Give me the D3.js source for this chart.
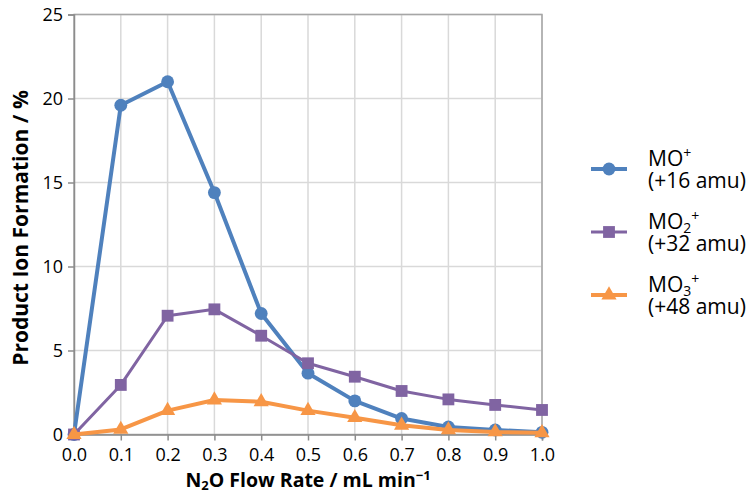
<!DOCTYPE html>
<html>
<head>
<meta charset="utf-8">
<script src="https://cdn.jsdelivr.net/npm/d3@7"></script>
<style>
  html, body { margin: 0; padding: 0; background: #fff; }
  svg { display: block; font-family: "Open Sans", "Liberation Sans", sans-serif; }
</style>
</head>
<body>
<svg id="chart" width="751" height="493"></svg>
<script>
// N2O flow rate (mL/min) and product ion formation (%) per oxide species
const flowRates = [0.0, 0.1, 0.2, 0.3, 0.4, 0.5, 0.6, 0.7, 0.8, 0.9, 1.0];
const mo1Values = [0.0, 19.6, 21.0, 14.4, 7.2, 3.65, 2.0, 0.95, 0.45, 0.27, 0.13];
const mo2Values = [0.0, 2.95, 7.07, 7.45, 5.88, 4.24, 3.44, 2.59, 2.09, 1.76, 1.46];
const mo3Values = [0.0, 0.3, 1.42, 2.05, 1.95, 1.42, 1.0, 0.55, 0.27, 0.15, 0.1];
const xTicks = [0.0, 0.1, 0.2, 0.3, 0.4, 0.5, 0.6, 0.7, 0.8, 0.9, 1.0];
const yTicks = [0, 5, 10, 15, 20, 25];

const series = [
  { name: "MO", sub: "", mass: "(+16 amu)", values: mo1Values, color: "#4f81bd", width: 4, marker: "circle" },
  { name: "MO", sub: "2", mass: "(+32 amu)", values: mo2Values, color: "#8064a2", width: 3, marker: "square" },
  { name: "MO", sub: "3", mass: "(+48 amu)", values: mo3Values, color: "#f79646", width: 4, marker: "triangle" }
];

const svg = d3.select("#chart");
const x = d3.scaleLinear().domain([0, 1]).range([74, 542]);
const y = d3.scaleLinear().domain([0, 25]).range([434.5, 14.5]);

// gridlines
const grid = svg.append("g");
grid.selectAll("line.v").data(xTicks.slice(1)).join("line")
  .attr("x1", d => x(d)).attr("x2", d => x(d))
  .attr("y1", y(0)).attr("y2", y(25))
  .attr("stroke", "#d9d9d9").attr("stroke-width", 1.5);
grid.selectAll("line.h").data(yTicks.slice(1)).join("line")
  .attr("x1", x(0)).attr("x2", x(1))
  .attr("y1", d => y(d)).attr("y2", d => y(d))
  .attr("stroke", "#d9d9d9").attr("stroke-width", 1.5);

// plot-area frame
svg.append("rect")
  .attr("x", x(0)).attr("y", y(25))
  .attr("width", x(1) - x(0)).attr("height", y(0) - y(25))
  .attr("fill", "none").attr("stroke", "#a6a6a6").attr("stroke-width", 1.5);

// axes
const xAxis = svg.append("g").attr("transform", `translate(0,${y(0)})`)
  .call(d3.axisBottom(x).tickValues(xTicks).tickFormat(d3.format(".1f")).tickSize(6).tickPadding(4));
const yAxis = svg.append("g").attr("transform", `translate(${x(0)},0)`)
  .call(d3.axisLeft(y).tickValues(yTicks).tickFormat(d3.format("d")).tickSize(6).tickPadding(5));
[xAxis, yAxis].forEach(a => {
  a.select(".domain").attr("stroke", "#8c8c8c").attr("stroke-width", 1.5);
  a.selectAll(".tick line").attr("stroke", "#8c8c8c").attr("stroke-width", 1.5);
  a.selectAll(".tick text").attr("fill", "#000").style("font-size", "18px")
    .style("font-family", "'Open Sans', sans-serif");
});
xAxis.selectAll(".tick text").attr("dy", "0.9em");

// series lines and markers
const line = d3.line().x((d, i) => x(flowRates[i])).y(d => y(d));
const markerPath = {
  circle: d3.symbol(d3.symbolCircle, 130),
  square: d3.symbol(d3.symbolSquare, 140),
  triangle: d3.symbol(d3.symbolTriangle, 100)
};
series.forEach(s => {
  const g = svg.append("g");
  g.append("path").datum(s.values)
    .attr("d", line).attr("fill", "none")
    .attr("stroke", s.color).attr("stroke-width", s.width)
    .attr("stroke-linejoin", "round");
  g.selectAll("path.m").data(s.values).join("path")
    .attr("class", "m")
    .attr("d", markerPath[s.marker])
    .attr("transform", (d, i) => `translate(${x(flowRates[i])},${y(d)})`)
    .attr("fill", s.color);
});

// legend: one text block per entry (formula line + mass line)
const legendRows = [169, 232, 295];
series.forEach((s, i) => {
  const cy = legendRows[i];
  const g = svg.append("g");
  g.append("line").attr("x1", 591).attr("x2", 627).attr("y1", cy).attr("y2", cy)
    .attr("stroke", s.color).attr("stroke-width", s.width);
  g.append("path").attr("d", markerPath[s.marker])
    .attr("transform", `translate(609,${cy})`).attr("fill", s.color);
  const t = g.append("text").attr("x", 648).attr("y", cy - 3)
    .style("font-size", "21px").attr("fill", "#000");
  t.append("tspan").text(s.name);
  if (s.sub) t.append("tspan").attr("dy", 4).style("font-size", "14px").text(s.sub);
  t.append("tspan").attr("dy", s.sub ? -12 : -8).style("font-size", "14px").text("+");
  t.append("tspan").attr("x", 648).attr("y", cy + 19).text(s.mass);
});

// axis titles
const xt = svg.append("text").attr("x", 308).attr("y", 487)
  .attr("text-anchor", "middle").style("font-size", "19.5px").style("font-weight", "bold");
xt.append("tspan").text("N");
xt.append("tspan").attr("dy", 3).style("font-size", "13px").text("2");
xt.append("tspan").attr("dy", -3).text("O Flow Rate / mL min");
xt.append("tspan").attr("dy", -7).style("font-size", "13px").text("−1");

svg.append("text")
  .attr("transform", "translate(28,228) rotate(-90)")
  .attr("text-anchor", "middle").style("font-size", "21px").style("font-weight", "bold")
  .text("Product Ion Formation / %");
</script>
</body>
</html>
